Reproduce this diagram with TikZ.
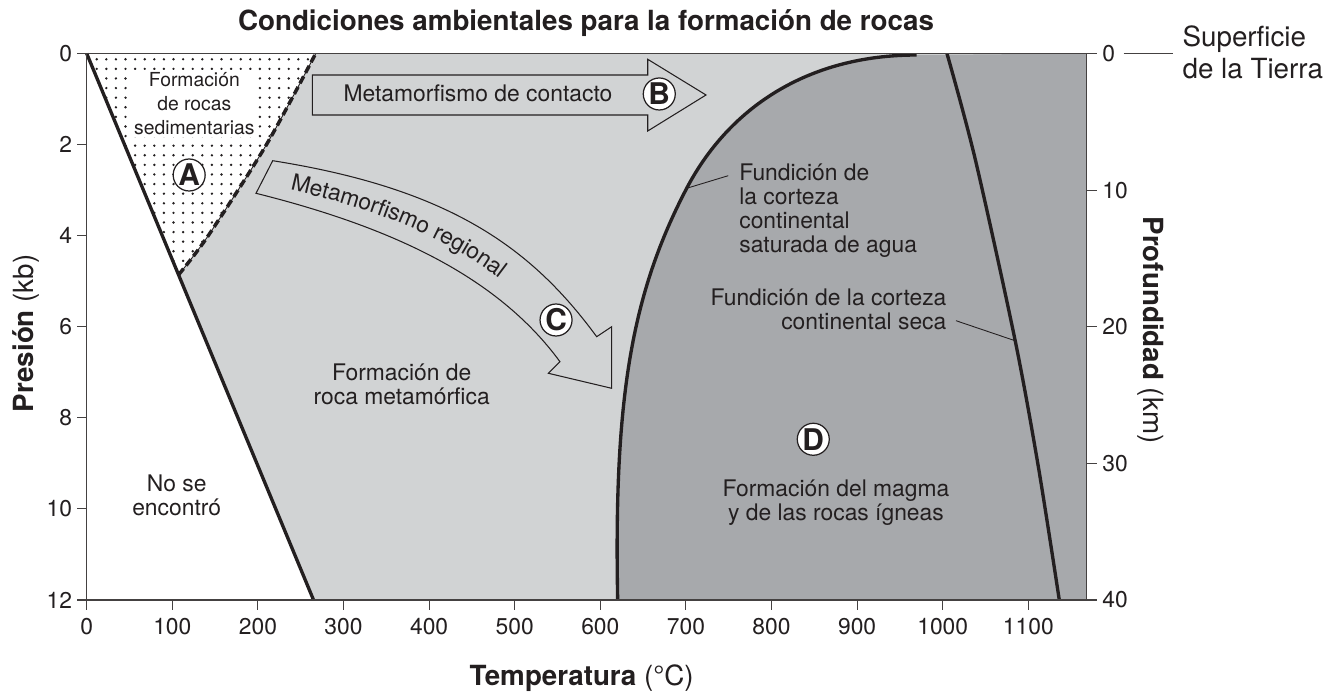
\documentclass[tikz,border=0pt]{standalone}
\usepackage{fontspec}
\setmainfont{TeX Gyre Heros}
\usetikzlibrary{positioning, decorations.text}

\definecolor{inkgray}{RGB}{35,31,32}
\definecolor{lightrock}{RGB}{209,211,212}
\definecolor{darkrock}{RGB}{167,169,172}

\newcommand{\txt}{\fontsize{13}{13.7}\selectfont}
\newcommand{\bigtxt}{\fontsize{15.8}{18}\selectfont}

\begin{document}
\begin{tikzpicture}[x=1.712cm, y=-0.9108cm, align=center, font=\txt, text=inkgray]
\tikzstyle{boundary}=[line width=1.9pt, draw=inkgray]
\tikzstyle{frame}=[line width=0.6pt, draw=inkgray!85]
\tikzstyle{outline}=[line width=0.6pt, draw=inkgray, fill=lightrock]
\tikzstyle{leader}=[line width=0.5pt, draw=inkgray]
\tikzstyle{letter}=[circle, draw=inkgray, fill=white, line width=0.7pt, inner sep=0pt, minimum size=0.64cm, font=\bfseries\fontsize{17}{17}\selectfont]

\useasboundingbox (-1.0129,-1.1748) rectangle (14.583,14.043);

% fields
\fill[lightrock] (0,0) -- (11.682,0) -- (11.682,12) -- (2.65,12) -- cycle;
\fill[white] (0,0) -- plot[smooth] coordinates {(1.073,4.86) (1.42,4.0) (2.10,2.0) (2.675,0)} -- cycle;
\begin{scope}
  \clip (0,0) -- plot[smooth] coordinates {(1.073,4.86) (1.42,4.0) (2.10,2.0) (2.675,0)} -- cycle;
  \foreach \i in {0,...,24}
    \foreach \j in {0,...,23}
      \fill[inkgray] (0.117+0.11215*\i, 0.127+0.2108*\j) circle[radius=0.75pt];
\end{scope}
\fill[darkrock] (6.203,12) .. controls (6.157,7.609) and (6.359,5.294) .. (7.009,2.960)
  .. controls (7.498,1.210) and (8.411,0.033) .. (9.696,0.033) -- (11.682,0) -- (11.682,12) -- cycle;

% boundaries
\draw[boundary] (0,0) -- (2.65,12);
\draw[line width=0.5pt, inkgray] plot[smooth] coordinates {(1.073,4.86) (1.42,4.0) (2.10,2.0) (2.675,0)};
\draw[boundary, line width=2pt, dash pattern=on 4.5pt off 2.3pt] plot[smooth] coordinates {(1.073,4.86) (1.42,4.0) (2.10,2.0) (2.675,0)};
\draw[boundary] (6.203,12) .. controls (6.157,7.609) and (6.359,5.294) .. (7.009,2.960)
  .. controls (7.498,1.210) and (8.411,0.033) .. (9.696,0.033);
\draw[boundary] plot[smooth] coordinates {(10.05,0) (10.38,2.32) (10.845,6.29) (11.117,9.07) (11.362,12)};

% axes
\draw[frame] (0,0) rectangle (11.682,12);
\foreach \kb in {0,2,...,12}
  \draw[frame] (0,\kb) -- (-0.1168,\kb) node[left=2.3pt, inner sep=0pt] (p\kb) {\kb};
\foreach \tc in {0,100,...,1100}
  \draw[frame] (\tc/100,12) -- (\tc/100,12.22) node[below=4.5pt, inner sep=0pt] (t\tc) {\tc};
\foreach \km in {0,10,...,40}
  \draw[frame] (11.682,\km*0.3) -- (11.799,\km*0.3) node[right=3pt, inner sep=0pt] (d\km) {\km};

\node[anchor=west, align=left, inner sep=0pt, font=\bigtxt] (surf) at (12.799,-0.02) {Superficie\\de la Tierra};
\draw[frame] ([xshift=0.16cm]d0.east) -- ([xshift=-0.18cm]d0.east -| surf.west);

\node[font=\bfseries\bigtxt] (title) at (5.833,-0.66) {Condiciones ambientales para la formación de rocas};
\node[font=\bigtxt] (xtitle) at (5.783,13.724) {\textbf{Temperatura} (°C)};
\node[font=\bigtxt, rotate=90] (ytitle) at (-0.708,6.144) {\textbf{Presión} (kb)};
\node[font=\bigtxt, rotate=-90] (ztitle) at (12.436,6.072) {\textbf{Profundidad} (km)};

% arrows
\draw[outline] (2.636,0.472) -- (6.554,0.472) -- (6.554,0.127) -- (7.235,0.911) -- (6.554,1.702) -- (6.554,1.350) -- (2.636,1.350) -- cycle;
\node (contact) at (4.571,0.885) {Metamorfismo de contacto};

\draw[outline] (2.173,2.354) .. controls (4.250,2.973) and (5.197,4.271) .. (5.958,6.219) -- (6.133,5.999) -- (6.133,7.352) -- (5.393,7.022) -- (5.529,6.768) .. controls (4.838,4.998) and (3.678,3.867) .. (1.978,3.070) -- cycle;
\path[decorate, decoration={text along path, text color=inkgray, text align={left indent=0.56cm}, raise=-4pt, text={|\txt|Metamorfismo regional}}]
  (2.075,2.712) .. controls (3.964,3.42) and (5.018,4.635) .. (5.744,6.494);

% labels
\node[font=\fontsize{11}{13.7}\selectfont, fill=white, inner sep=1.5pt] (sedlbl) at (1.257,1.096) {Formación\\de rocas\\sedimentarias};
\node (nolbl) at (1.051,9.695) {No se\\encontró};
\node (metalbl) at (3.680,7.27) {Formación de\\roca metamórfica};
\node (magmalbl) at (8.753,9.864) {Formación del magma\\y de las rocas ígneas};
\node[anchor=west, align=left, inner sep=0pt] (wetlbl) at (7.620,3.458) {Fundición de\\la corteza\\continental\\saturada de agua};
\node[anchor=east, align=right, inner sep=0pt] (drylbl) at (10.047,5.611) {Fundición de la corteza\\continental seca};

\coordinate (wetA) at (7.495,2.683);
\coordinate (wetB) at (7.009,2.960);
\coordinate (dryA) at (10.155,5.867);
\coordinate (dryB) at (10.845,6.307);
\draw[leader] (wetA) -- (wetB);
\draw[leader] (dryA) -- (dryB);

\node[letter] (A) at (1.197,2.668) {A};
\node[letter] (B) at (6.689,0.889) {B};
\node[letter] (C) at (5.483,5.852) {C};
\node[letter] (D) at (8.488,8.471) {D};
\end{tikzpicture}
\end{document}
